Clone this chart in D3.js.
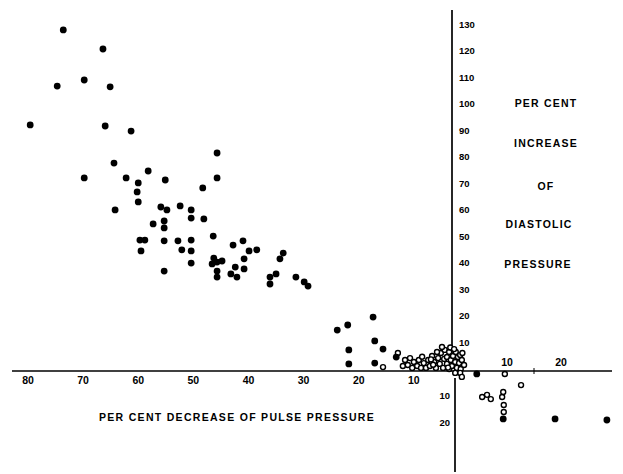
<!DOCTYPE html>
<html>
<head>
<meta charset="utf-8">
<script src="https://cdn.jsdelivr.net/npm/d3@7"></script>
<style>
  body { margin: 0; background: #fff; }
  text { font-family: "Liberation Sans", Arial, sans-serif; font-weight: bold; fill: #000; }
</style>
</head>
<body>
<div id="chart"></div>
<script>
// left quadrant: per cent decrease of pulse pressure (x) vs per cent change of diastolic (y)
const decFilledX = [73.6, 66.4, 74.7, 69.8, 65.1, 79.6, 66.0, 61.3, 45.7, 64.4, 69.8, 62.2, 58.2, 60.0, 55.1, 60.2,
  45.7, 48.3, 60.0, 64.2, 55.9, 54.8, 52.4, 50.4, 50.4, 48.1, 57.3, 55.3, 55.3, 46.4, 59.7, 58.8, 55.3, 52.8, 50.4,
  59.5, 52.1, 50.4, 50.4, 55.3, 42.8, 41.0, 39.9, 38.5, 46.3, 46.6, 45.7, 44.8, 45.7, 45.7, 42.4, 43.2, 42.1, 40.8,
  40.8, 33.7, 34.3, 35.0, 36.1, 36.1, 31.4, 29.9, 29.2,
  23.9, 22.0, 17.4, 17.1, 21.8, 15.6, 21.8, 17.1, 13.2];
const decFilledY = [128.5, 121.3, 107.3, 109.6, 107.0, 92.6, 92.2, 90.3, 82.0, 78.2, 72.6, 72.6, 75.2, 70.7, 71.8, 67.3,
  72.6, 68.8, 63.5, 60.5, 61.6, 60.5, 62.0, 60.5, 57.4, 57.1, 55.2, 56.3, 53.7, 50.6, 49.1, 49.1, 48.8, 48.8, 49.1,
  45.0, 45.4, 45.0, 40.4, 37.4, 47.2, 48.8, 45.0, 45.4, 42.3, 40.1, 40.8, 41.2, 37.4, 35.1, 38.9, 36.3, 35.1, 38.2,
  42.0, 44.2, 42.0, 36.3, 35.1, 32.5, 35.1, 33.3, 31.7,
  15.1, 17.0, 20.0, 11.0, 7.6, 7.9, 2.3, 2.6, 4.9];
const decOpenX = [15.6, 12.9, 12.0, 11.6, 11.1, 10.7, 10.3, 10.0, 9.4, 9.1, 8.7, 8.2, 7.8, 7.4, 7.1, 6.7, 6.3, 6.0,
  5.6, 5.3, 5.1, 4.7, 4.5, 4.4, 4.0, 4.0, 3.6, 3.6, 3.3, 3.1, 2.9, 2.5, 2.4, 2.2, 2.0, 1.8, 1.6, 1.5, 1.3, 1.6, 1.3,
  2.5, 4.9, 8.5, 6.9, 5.8, 3.4, 2.7, 1.2, 0.9, 6.5, 3.8];
const decOpenY = [1.1, 6.4, 1.5, 3.8, 1.9, 4.5, 0.8, 3.0, 1.5, 3.8, 0.8, 2.6, 0.8, 3.8, 1.5, 5.3, 3.0, 0.8,
  4.5, 2.3, 6.4, 0.8, 4.2, 7.6, 2.3, 4.9, 6.8, 0.4, 3.8, 1.5, 5.3, 3.0, 6.8, 0.8, 4.9, 2.6, 5.7, 0.4, 3.8, -1.1, -2.6,
  -1.1, 8.7, 5.0, 4.0, 6.8, 8.5, 7.9, 6.4, 1.9, 2.0, 0.9];

// right quadrant: per cent increase of pulse pressure
const incFilledX = [4.4, 9.3, 18.9, 28.5];
const incFilledY = [-1.5, -18.5, -18.5, -18.9];
const incOpenX = [9.6, 12.6, 5.4, 6.3, 7.0, 9.1, 9.3, 9.4, 9.4];
const incOpenY = [-1.5, -5.7, -10.2, -9.4, -11.0, -10.2, -8.3, -13.2, -15.9];

const decTicks = [80, 70, 60, 50, 40, 30, 20, 10];
const incTicks = [10, 20];
const upTicks = [10, 20, 30, 40, 50, 60, 70, 80, 90, 100, 110, 120, 130];
const downTicks = [10, 20];
const sideLabel = ["PER CENT", "INCREASE", "OF", "DIASTOLIC", "PRESSURE"];
const bottomLabel = "PER CENT DECREASE OF PULSE PRESSURE";

const width = 623, height = 474;

const svg = d3.select("#chart")
  .append("svg")
  .attr("width", width)
  .attr("height", height);

const xDec = d3.scaleLinear().domain([0, 80]).range([469, 28]);
const xInc = d3.scaleLinear().domain([0, 20]).range([453, 561]);
const y = d3.scaleLinear().domain([0, 130]).range([370, 26]);

// axis lines, hand drawn look
svg.append("line")
  .attr("x1", 12).attr("x2", 612)
  .attr("y1", 371).attr("y2", 371)
  .attr("stroke", "#000").attr("stroke-width", 1.7);
svg.append("line")
  .attr("x1", 452).attr("x2", 452)
  .attr("y1", 10).attr("y2", 362)
  .attr("stroke", "#000").attr("stroke-width", 1.7);
svg.append("line")
  .attr("x1", 455).attr("x2", 455)
  .attr("y1", 378).attr("y2", 472)
  .attr("stroke", "#000").attr("stroke-width", 1.7);
svg.append("line")
  .attr("x1", xInc(15)).attr("x2", xInc(15))
  .attr("y1", 368).attr("y2", 374)
  .attr("stroke", "#000").attr("stroke-width", 1);

// tick labels
svg.append("g").selectAll("text")
  .data(decTicks)
  .enter()
  .append("text")
  .attr("x", d => xDec(d))
  .attr("y", 384)
  .attr("text-anchor", "middle")
  .attr("font-size", 10.5)
  .text(d => d);

svg.append("g").selectAll("text")
  .data(incTicks)
  .enter()
  .append("text")
  .attr("x", d => xInc(d))
  .attr("y", 366)
  .attr("text-anchor", "middle")
  .attr("font-size", 10.5)
  .text(d => d);

svg.append("g").selectAll("text")
  .data(upTicks)
  .enter()
  .append("text")
  .attr("x", 459)
  .attr("y", d => y(d) + 2)
  .attr("text-anchor", "start")
  .attr("font-size", 9.5)
  .text(d => d);

svg.append("g").selectAll("text")
  .data(downTicks)
  .enter()
  .append("text")
  .attr("x", 450)
  .attr("y", d => y(-d) + 3)
  .attr("text-anchor", "end")
  .attr("font-size", 9.5)
  .text(d => d);

// axis titles
const sideY = [103, 143, 186, 224, 264];
const sideX = [546, 546, 546, 539, 538];
svg.append("g").selectAll("text")
  .data(sideLabel)
  .enter()
  .append("text")
  .attr("x", (d, i) => sideX[i])
  .attr("y", (d, i) => sideY[i] + 4)
  .attr("text-anchor", "middle")
  .attr("font-size", 10.5)
  .attr("letter-spacing", 1.2)
  .text(d => d);

svg.append("text")
  .attr("x", 237)
  .attr("y", 421)
  .attr("text-anchor", "middle")
  .attr("font-size", 10.5)
  .attr("letter-spacing", 1.3)
  .text(bottomLabel);

// points
const decFilled = decFilledX.map((d, i) => [d, decFilledY[i]]);
const decOpen = decOpenX.map((d, i) => [d, decOpenY[i]]);
const incFilled = incFilledX.map((d, i) => [d, incFilledY[i]]);
const incOpen = incOpenX.map((d, i) => [d, incOpenY[i]]);

svg.append("g").selectAll("circle")
  .data(decOpen)
  .enter()
  .append("circle")
  .attr("cx", d => xDec(d[0]))
  .attr("cy", d => y(d[1]))
  .attr("r", 2.5)
  .attr("fill", "#fff")
  .attr("stroke", "#000")
  .attr("stroke-width", 1.4);

svg.append("g").selectAll("circle")
  .data(incOpen)
  .enter()
  .append("circle")
  .attr("cx", d => xInc(d[0]))
  .attr("cy", d => y(d[1]))
  .attr("r", 2.5)
  .attr("fill", "#fff")
  .attr("stroke", "#000")
  .attr("stroke-width", 1.4);

svg.append("g").selectAll("circle")
  .data(decFilled)
  .enter()
  .append("circle")
  .attr("cx", d => xDec(d[0]))
  .attr("cy", d => y(d[1]))
  .attr("r", 3.4)
  .attr("fill", "#000");

svg.append("g").selectAll("circle")
  .data(incFilled)
  .enter()
  .append("circle")
  .attr("cx", d => xInc(d[0]))
  .attr("cy", d => y(d[1]))
  .attr("r", 3.4)
  .attr("fill", "#000");
</script>
</body>
</html>
